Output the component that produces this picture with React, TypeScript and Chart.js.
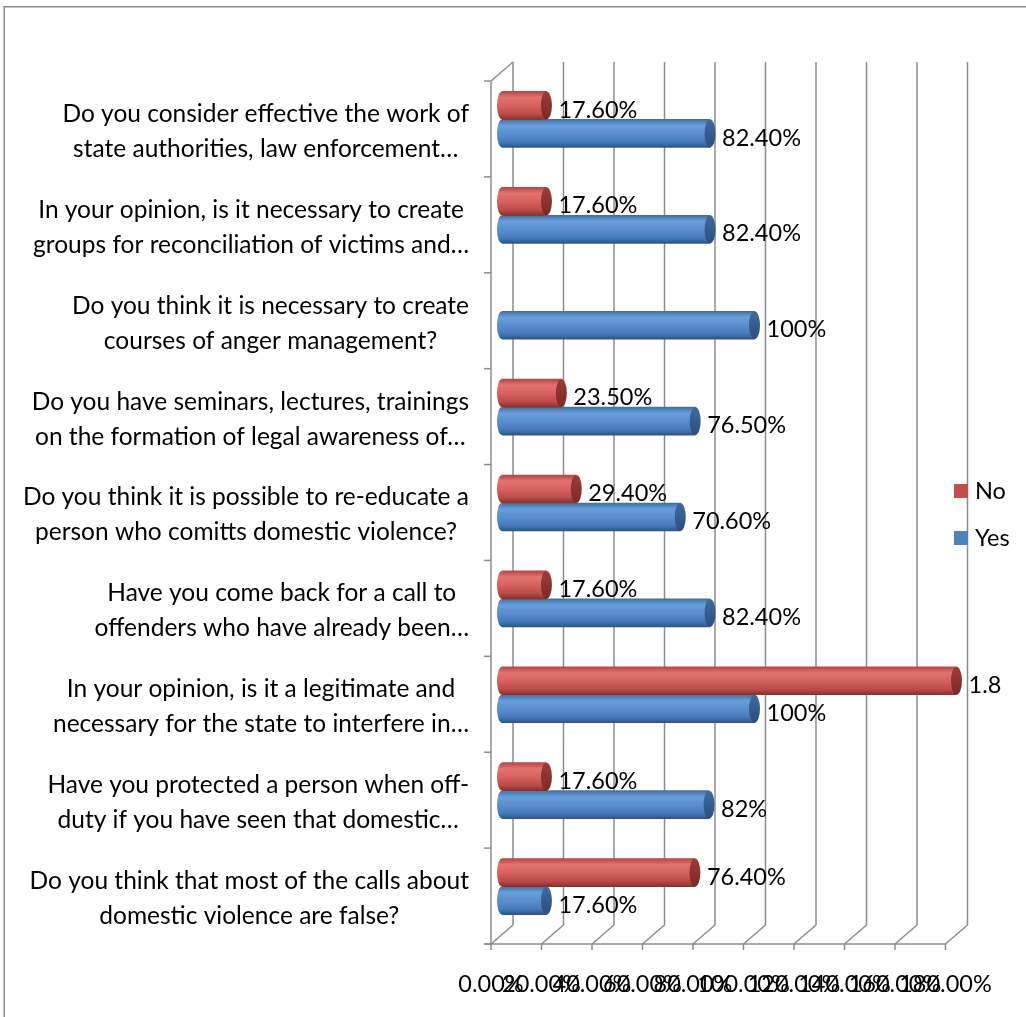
import React, { useEffect, useRef } from "react";
import { Chart, registerables } from "chart.js";

Chart.register(...registerables);

const categories: string[][] = [
  ["Do you consider effective the work of", "state authorities, law enforcement…"],
  ["In your opinion, is it necessary to create", "groups for reconciliation of victims and…"],
  ["Do you think it is necessary to create", "courses of anger management?"],
  ["Do you have seminars, lectures, trainings", "on the formation of legal awareness of…"],
  ["Do you think it is possible to re-educate a", "person who comitts domestic violence?"],
  ["Have you come back for a call to", "offenders who have already been…"],
  ["In your opinion, is it a legitimate and", "necessary for the state to interfere in…"],
  ["Have you protected a person when off-", "duty if you have seen that domestic…"],
  ["Do you think that most of the calls about", "domestic violence are false?"],
];

const seriesNames = ["No", "Yes"];
const noValues: (number | null)[] = [0.176, 0.176, null, 0.235, 0.294, 0.176, 1.8, 0.176, 0.764];
const yesValues: (number | null)[] = [0.824, 0.824, 1.0, 0.765, 0.706, 0.824, 1.0, 0.82, 0.176];
const noLabels = ["17.60%", "17.60%", "", "23.50%", "29.40%", "17.60%", "1.8", "17.60%", "76.40%"];
const yesLabels = ["82.40%", "82.40%", "100%", "76.50%", "70.60%", "82.40%", "100%", "82%", "17.60%"];
const xTickLabels = [
  "0.00%", "20.00%", "40.00%", "60.00%", "80.00%",
  "100.00%", "120.00%", "140.00%", "160.00%", "180.00%",
];
const xMin = 0;
const xMax = 1.8;
const xStep = 0.2;

const seriesColors = ["#C0504D", "#4F81BD"];
const gradStops = [
  [[0, "#B44744"], [0.22, "#E27470"], [0.5, "#D8625E"], [0.8, "#BC4C49"], [1, "#8A302D"]],
  [[0, "#42709F"], [0.22, "#6A9EDB"], [0.5, "#5A8FD0"], [0.8, "#467ABA"], [1, "#2F5585"]],
];
const capColors = [
  ["#9E3B38", "#7A2A28"],
  ["#3F6A9E", "#2C4F7E"],
];

const FONT = "Lato, 'Open Sans', 'DejaVu Sans', sans-serif";
const W = 1026;
const H = 1017;
const BAR_T = 28;
const DX = 11;
const DY = 9.5;
const GRID = "#8C8C8C";

function makeGradient(c: CanvasRenderingContext2D, top: number, k: number, h: number = BAR_T) {
  if (!Number.isFinite(top) || !Number.isFinite(h) || h <= 0) return seriesColors[k];
  const g = c.createLinearGradient(0, top, 0, top + h);
  for (const [o, col] of gradStops[k]) g.addColorStop(o as number, col as string);
  return g;
}

function barFill(k: number) {
  return (ctx: any) => {
    const chart = ctx.chart;
    if (ctx.type !== "data" || !chart.scales || !chart.scales.y) return seriesColors[k];
    const c = chart.scales.y.getPixelForValue(ctx.dataIndex);
    if (!Number.isFinite(c)) return seriesColors[k];
    const top = c - BAR_T + k * BAR_T;
    return makeGradient(chart.ctx, top, k);
  };
}

function line(c: CanvasRenderingContext2D, x1: number, y1: number, x2: number, y2: number) {
  c.beginPath();
  c.moveTo(x1, y1);
  c.lineTo(x2, y2);
  c.stroke();
}

const framePlugin = {
  id: "frame3d",
  beforeDatasetsDraw(chart: any) {
    const c: CanvasRenderingContext2D = chart.ctx;
    const ca = chart.chartArea;
    const x = chart.scales.x;
    const px = x.ticks.map((t: any) => x.getPixelForValue(t.value));
    const backTop = ca.top - DY;
    const backBottom = ca.bottom - DY;
    const frontTop = ca.top + DY;
    const frontBottom = ca.bottom + DY;
    c.save();
    c.strokeStyle = GRID;
    c.lineWidth = 1.5;
    px.forEach((p: number) => line(c, p + DX, backTop, p + DX, backBottom));
    px.forEach((p: number) => line(c, p - DX, frontBottom, p + DX, backBottom));
    const f0 = px[0] - DX;
    line(c, f0 - 7, frontBottom, px[px.length - 1] - DX, frontBottom);
    px.forEach((p: number) => line(c, p - DX, frontBottom, p - DX, frontBottom + 6));
    line(c, f0, frontTop, f0, frontBottom);
    line(c, f0, frontTop, px[0] + DX, backTop);
    const n = categories.length;
    const band = (ca.bottom - ca.top) / n;
    for (let i = 0; i <= n; i++) {
      const yy = ca.top + i * band + DY;
      line(c, f0 - 7, yy, f0, yy);
    }
    c.fillStyle = "#000";
    c.font = `24.5px ${FONT}`;
    c.textBaseline = "middle";
    c.textAlign = "center";
    const right = f0 - 22;
    const lh = 35;
    categories.forEach((lines, i) => {
      const cy = chart.scales.y.getPixelForValue(i) + DY + 2.5;
      const wmax = Math.max(...lines.map((s) => c.measureText(s).width));
      const cx = right - wmax / 2;
      lines.forEach((s, j) => {
        c.fillText(s, cx, cy + (j - (lines.length - 1) / 2) * lh);
      });
    });
    c.restore();
  },
  afterDatasetsDraw(chart: any) {
    const c: CanvasRenderingContext2D = chart.ctx;
    c.save();
    const labelSets = [noLabels, yesLabels];
    const texts: [string, number, number][] = [];
    chart.data.datasets.forEach((ds: any, k: number) => {
      const meta = chart.getDatasetMeta(k);
      meta.data.forEach((el: any, i: number) => {
        const v = ds.data[i];
        if (v === null || v === undefined || v === 0) return;
        const { x, y, base, height } = el.getProps(["x", "y", "base", "height"], true);
        if (![x, y, base, height].every((n) => Number.isFinite(n))) return;
        const top = y - height / 2;
        c.fillStyle = makeGradient(c, top, k, height) as any;
        c.beginPath();
        c.ellipse(base, y, 5, height / 2, 0, 0, Math.PI * 2);
        c.fill();
        const g = c.createLinearGradient(0, top, 0, top + height);
        g.addColorStop(0, capColors[k][0]);
        g.addColorStop(1, capColors[k][1]);
        c.fillStyle = g;
        c.beginPath();
        c.ellipse(x, y, 5.5, height / 2, 0, 0, Math.PI * 2);
        c.fill();
        texts.push([labelSets[k][i], x + 12, y + 4.5]);
      });
    });
    c.fillStyle = "#000";
    c.font = `23.5px ${FONT}`;
    c.textAlign = "left";
    c.textBaseline = "middle";
    texts.forEach(([t, tx, ty]) => c.fillText(t, tx, ty));
    const legY = [491, 538];
    chart.data.datasets.forEach((ds: any, k: number) => {
      c.fillStyle = seriesColors[k];
      c.fillRect(954, legY[k] - 7, 14, 14);
      c.fillStyle = "#000";
      c.fillText(ds.label, 975, legY[k]);
    });
    c.strokeStyle = "#8A8A8A";
    c.lineWidth = 1.5;
    c.strokeRect(4.25, 6.75, W + 20, H + 20);
    c.restore();
  },
};

export default function App() {
  const ref = useRef<HTMLCanvasElement | null>(null);
  useEffect(() => {
    if (!ref.current) return;
    const chart = new Chart(ref.current, {
      type: "bar",
      data: {
        labels: categories,
        datasets: [
          { label: seriesNames[0], data: noValues, backgroundColor: barFill(0) as any, barThickness: BAR_T, borderWidth: 0 },
          { label: seriesNames[1], data: yesValues, backgroundColor: barFill(1) as any, barThickness: BAR_T, borderWidth: 0 },
        ],
      },
      options: {
        indexAxis: "y",
        animation: false,
        responsive: false,
        devicePixelRatio: 1,
        layout: { padding: { left: 502, right: 69.5, top: 71.5, bottom: 0 } },
        plugins: {
          legend: { display: false },
          tooltip: { enabled: false },
        },
        scales: {
          y: { display: false },
          x: {
            min: xMin,
            max: xMax,
            grid: { display: false, drawTicks: false },
            border: { display: false },
            ticks: {
              stepSize: xStep,
              color: "#000",
              font: { family: FONT, size: 23.5 },
              padding: 36,
              labelOffset: -DX,
              maxRotation: 0,
              minRotation: 0,
              autoSkip: false,
              callback: (_v: any, i: number) => xTickLabels[i],
            },
            afterFit: (s: any) => {
              s.height = H - 934.5;
              s.paddingLeft = 0;
              s.paddingRight = 0;
            },
          },
        },
      },
      plugins: [framePlugin],
    });
    return () => chart.destroy();
  }, []);
  return (
    <div style={{ position: "fixed", left: 0, top: 0, width: W, height: H, overflow: "hidden", background: "#fff" }}>
      <canvas ref={ref} width={W} height={H} style={{ display: "block" }} />
    </div>
  );
}
